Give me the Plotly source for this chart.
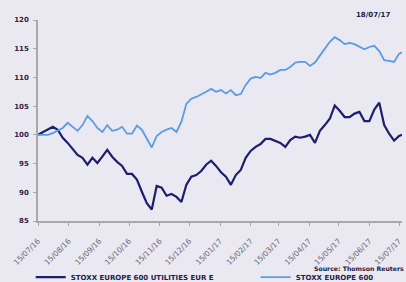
import plotly.graph_objects as go

dates = [
    "2016-07-15", "2016-07-20", "2016-07-25", "2016-07-30", "2016-08-04", "2016-08-09",
    "2016-08-14", "2016-08-19", "2016-08-24", "2016-08-29", "2016-09-03", "2016-09-08",
    "2016-09-13", "2016-09-18", "2016-09-23", "2016-09-28", "2016-10-03", "2016-10-08",
    "2016-10-13", "2016-10-18", "2016-10-23", "2016-10-28", "2016-11-02", "2016-11-07",
    "2016-11-12", "2016-11-17", "2016-11-22", "2016-11-27", "2016-12-02", "2016-12-07",
    "2016-12-12", "2016-12-17", "2016-12-22", "2016-12-27", "2017-01-01", "2017-01-06",
    "2017-01-11", "2017-01-16", "2017-01-21", "2017-01-26", "2017-01-31", "2017-02-05",
    "2017-02-10", "2017-02-15", "2017-02-20", "2017-02-25", "2017-03-02", "2017-03-07",
    "2017-03-12", "2017-03-17", "2017-03-22", "2017-03-27", "2017-04-01", "2017-04-06",
    "2017-04-11", "2017-04-16", "2017-04-21", "2017-04-26", "2017-05-01", "2017-05-06",
    "2017-05-11", "2017-05-16", "2017-05-21", "2017-05-26", "2017-05-31", "2017-06-05",
    "2017-06-10", "2017-06-15", "2017-06-20", "2017-06-25", "2017-06-30", "2017-07-05",
    "2017-07-10", "2017-07-15", "2017-07-18",
]

utilities = [
    100.0, 100.5, 101.0, 101.4, 100.9, 99.5, 98.6, 97.6, 96.5, 96.0, 94.8, 96.0,
    95.1, 96.2, 97.4, 96.2, 95.3, 94.6, 93.2, 93.2, 92.2, 90.1, 88.1, 87.0,
    91.1, 90.8, 89.4, 89.7, 89.2, 88.3, 91.3, 92.7, 93.0, 93.7, 94.8, 95.5,
    94.6, 93.5, 92.7, 91.3, 93.0, 93.9, 96.0, 97.2, 97.9, 98.4, 99.3, 99.3,
    99.0, 98.6, 97.9, 99.1, 99.7, 99.5, 99.7, 100.0, 98.6, 100.7, 101.7, 102.8,
    105.1, 104.2, 103.1, 103.1, 103.7, 104.0, 102.4, 102.4, 104.4, 105.6, 101.7, 100.2,
    99.0, 99.8, 100.0,
]

stoxx600 = [
    100.0, 100.0, 100.0, 100.3, 100.7, 101.2, 102.1, 101.4, 100.7, 101.7, 103.3, 102.4,
    101.2, 100.5, 101.7, 100.7, 100.9, 101.4, 100.2, 100.2, 101.6, 100.9, 99.3, 97.8,
    99.8, 100.5, 100.9, 101.2, 100.5, 102.3, 105.4, 106.3, 106.6, 107.0, 107.5, 108.0,
    107.5, 107.8, 107.2, 107.8, 106.9, 107.1, 108.7, 109.8, 110.1, 109.9, 110.8, 110.5,
    110.8, 111.3, 111.3, 111.8, 112.6, 112.7, 112.7, 112.0, 112.6, 113.8, 114.9, 116.2,
    117.0, 116.5, 115.8, 116.0, 115.8, 115.3, 114.9, 115.3, 115.5, 114.6, 113.0, 112.9,
    112.7, 114.1, 114.4,
]

tick_dates = [
    "2016-07-15", "2016-08-15", "2016-09-15", "2016-10-15", "2016-11-15", "2016-12-15",
    "2017-01-15", "2017-02-15", "2017-03-15", "2017-04-15", "2017-05-15", "2017-06-15",
    "2017-07-15",
]
tick_labels = [
    "15/07/16", "15/08/16", "15/09/16", "15/10/16", "15/11/16", "15/12/16",
    "15/01/17", "15/02/17", "15/03/17", "15/04/17", "15/05/17", "15/06/17",
    "15/07/17",
]
y_ticks = [85, 90, 95, 100, 105, 110, 115, 120]

names = ["STOXX EUROPE 600 UTILITIES EUR E", "STOXX EUROPE 600"]
date_stamp = "18/07/17"
source = "Source: Thomson Reuters"

BG = "#EAE8F0"
DARK = "#1E1E6E"
LIGHT = "#5A9BE2"

fig = go.Figure()
fig.add_trace(go.Scatter(x=dates, y=utilities, mode="lines", name=names[0],
                         line=dict(color=DARK, width=2.2), legend="legend"))
fig.add_trace(go.Scatter(x=dates, y=stoxx600, mode="lines", name=names[1],
                         line=dict(color=LIGHT, width=1.8), legend="legend2"))

legend_font = dict(size=7, color="#1E1E4E", family="DejaVu Sans", weight="bold")

fig.update_layout(
    width=406, height=282,
    margin=dict(l=38, r=4, t=20, b=61, autoexpand=False),
    paper_bgcolor=BG, plot_bgcolor=BG,
    font=dict(family="DejaVu Sans", size=5, color="#222244"),
    showlegend=True,
    legend=dict(orientation="h", x=-0.02, xanchor="left", y=-0.279, yanchor="middle",
                font=legend_font, bgcolor="rgba(0,0,0,0)", itemwidth=30),
    legend2=dict(orientation="h", x=0.598, xanchor="left", y=-0.279, yanchor="middle",
                 font=legend_font, bgcolor="rgba(0,0,0,0)", itemwidth=30),
    xaxis=dict(range=["2016-07-15", "2017-07-18"], tickmode="array",
               tickvals=tick_dates, ticktext=tick_labels, tickangle=-45,
               showgrid=False, zeroline=False, showline=True, linecolor="#A8A8A8",
               linewidth=1.5, ticks="outside", ticklen=3, tickcolor="#A8A8A8",
               ticklabelstandoff=8,
               tickfont=dict(size=7.5, color="#666677")),
    yaxis=dict(range=[85, 120], tickmode="array", tickvals=y_ticks,
               showgrid=False, zeroline=False, showline=True, linecolor="#A8A8A8",
               linewidth=1.5, ticks="outside", ticklen=3, tickcolor="#A8A8A8",
               ticklabelstandoff=3,
               tickfont=dict(size=7, color="#332244", weight="bold")),
    annotations=[
        dict(text="<b>" + date_stamp + "</b>", xref="paper", yref="paper",
             x=0.9725, y=1.025, xanchor="right", yanchor="middle", showarrow=False,
             font=dict(size=7, color="#222244")),
        dict(text="<b>" + source + "</b>", xref="paper", yref="paper",
             x=1.011, y=-0.234, xanchor="right", yanchor="middle", showarrow=False,
             font=dict(size=6.2, color="#222244")),
    ],
)

fig.write_html("out.html", post_script="document.body.style.margin='0';",
               config={"displayModeBar": False})
